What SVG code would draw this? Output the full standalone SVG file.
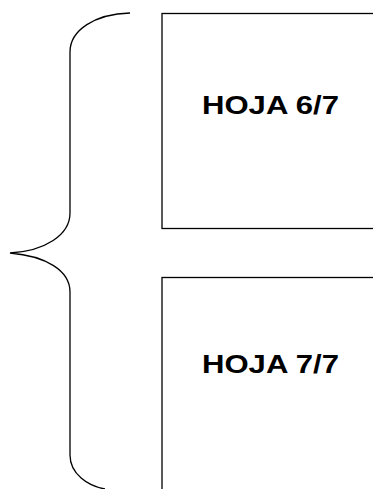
<svg xmlns="http://www.w3.org/2000/svg" width="373" height="489" viewBox="0 0 373 489">
<style>
.box{fill:#fff;stroke:#000;stroke-width:1.3}
.lbl{font-family:"Liberation Sans",Arial,sans-serif;font-weight:bold;font-size:26.5px;fill:#000}
.brace{fill:none;stroke:#000;stroke-width:1.3}
</style>
<rect width="373" height="489" fill="#fff"/>
<g id="hoja6">
<rect class="box" x="162" y="13.5" width="230" height="215"/>
<text class="lbl" x="202" y="114" textLength="137" lengthAdjust="spacingAndGlyphs">HOJA 6/7</text>
</g>
<g id="hoja7">
<rect class="box" x="162" y="277.5" width="230" height="230"/>
<text class="lbl" x="202" y="373" textLength="137" lengthAdjust="spacingAndGlyphs">HOJA 7/7</text>
</g>
<g id="connectors">
<path class="brace" d="M130,13 C95,14 70,30 70,52 L70,213 C70,235 45,251 10,253 C45,256 70,270 70,292 L70,455 C70,474 88,486 105,489"/>
</g>
</svg>
